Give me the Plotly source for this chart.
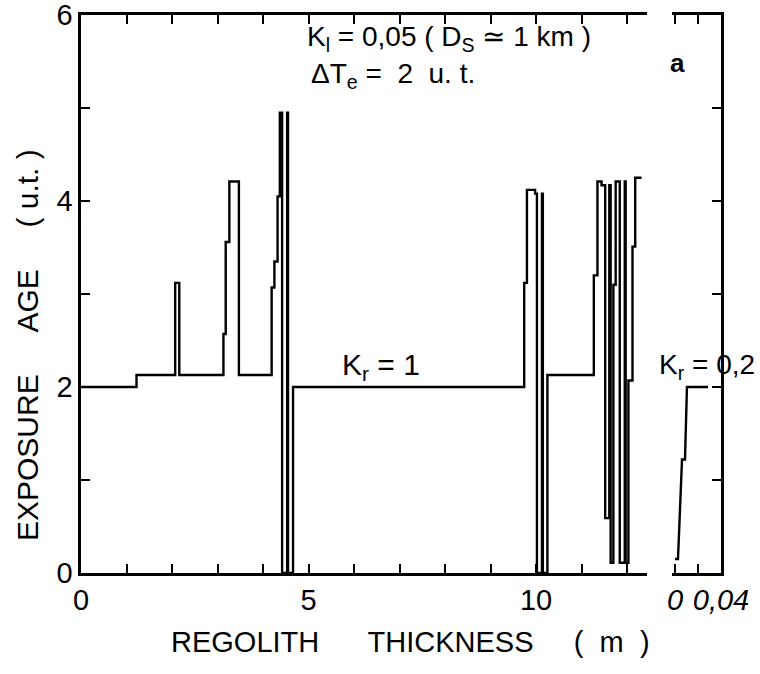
import plotly.graph_objects as go

# ---- data ----
# Main panel (K_r = 1): exposure age (u.t.) as a step function of regolith depth (m);
# each age level starts at the listed depth.
depth_m = [0.00, 1.22, 2.07, 2.16, 3.13, 3.18, 3.26, 3.47, 4.19, 4.25, 4.32, 4.37,
           4.42, 4.53, 4.55, 4.66, 9.74, 9.80, 9.98, 10.02, 10.13, 10.15, 10.25,
           11.27, 11.35, 11.44, 11.52, 11.61, 11.64, 11.70, 11.75, 11.84, 11.95,
           11.97, 12.03, 12.12, 12.18, 12.32]
age_ut = [2.00, 2.13, 3.12, 2.13, 2.57, 3.56, 4.21, 2.13, 3.07, 3.35, 4.05, 4.95,
          0.00, 4.95, 0.00, 2.00, 3.12, 4.12, 4.08, 0.00, 4.08, 0.00, 2.13,
          3.20, 4.21, 4.17, 0.59, 4.17, 0.11, 3.10, 4.21, 0.11, 4.21,
          0.11, 2.07, 3.51, 4.25, 4.25]

# Small panel (K_r = 0,2)
small_depth_m = [0.0000, 0.0026, 0.0061, 0.0087, 0.0104, 0.0287]
small_age_ut = [0.15, 0.15, 1.22, 1.22, 2.00, 2.00]

main_ticks = list(range(0, 13))
main_ticklabels = ["0", "", "", "", "", "5", "", "", "", "", "10", "", ""]
age_ticks = [0, 1, 2, 3, 4, 5, 6]
age_ticklabels = ["0", "", "2", "", "4", "", "6"]
small_ticks = [0, 0.02, 0.04]
small_ticklabels = ["<i>0</i>", "", "<i>0,04</i>"]

FONT = "Liberation Sans, Arial, sans-serif"
NB = "\u00a0"

# ---- geometry (pixels) ----
W, H = 760, 674
L, R, T, B = 81, 39, 15, 101
PW, PH = W - L - R, H - T - B


def px(x):
    return (x - L) / PW


def py(y):
    return (H - B - y) / PH


fig = go.Figure()
fig.add_trace(go.Scatter(x=depth_m, y=age_ut, mode="lines",
                         line=dict(shape="hv", color="black", width=2.4),
                         xaxis="x", yaxis="y", showlegend=False, hoverinfo="skip"))
fig.add_trace(go.Scatter(x=small_depth_m, y=small_age_ut, mode="lines",
                         line=dict(color="black", width=2.4),
                         xaxis="x2", yaxis="y2", showlegend=False, hoverinfo="skip"))

axis_common = dict(showgrid=False, zeroline=False, showline=True, linecolor="black",
                   linewidth=2.6, ticks="inside", ticklen=9, tickwidth=2,
                   tickcolor="black", automargin=False, ticklabeloverflow="allow",
                   tickfont=dict(family=FONT, size=29, color="black"))

YMAX = 6.0005
fig.update_layout(
    width=W, height=H,
    margin=dict(l=L, r=R, t=T, b=B, autoexpand=False),
    paper_bgcolor="white", plot_bgcolor="white",
    xaxis=dict(domain=[0, px(646.6)], range=[0, 12.43], tickvals=main_ticks,
               ticktext=main_ticklabels, mirror="ticks", anchor="y", **axis_common),
    yaxis=dict(domain=[0, 1], range=[0, YMAX], tickvals=age_ticks, ticktext=age_ticklabels,
               mirror=False, anchor="x", **axis_common),
    xaxis2=dict(domain=[px(672), 1], range=[-0.0026, 0.04], tickvals=small_ticks,
                ticktext=small_ticklabels, mirror="ticks", anchor="y2", **axis_common),
    yaxis2=dict(domain=[0, 1], range=[0, YMAX], tickvals=[1, 2, 3, 4, 5], side="right",
                showticklabels=False, anchor="x2", mirror=False, **axis_common),
)

ann_font = dict(family=FONT, size=28, color="black")
annotations = [
    dict(x=px(305), y=py(38), xanchor="left", yanchor="middle",
         text=f"K<sub>l</sub>{NB}={NB}0,05{NB}({NB}D<sub>S</sub>{NB}≃{NB}1{NB}km{NB})"),
    dict(x=px(309), y=py(75), xanchor="left", yanchor="middle",
         text=f"ΔT<sub>e</sub>{NB}={NB}{NB}2{NB}{NB}u.{NB}t."),
    dict(x=px(381), y=py(366), xanchor="center", yanchor="middle",
         text=f"K<sub>r</sub>{NB}={NB}1", font=dict(family=FONT, size=30, color="black")),
    dict(x=px(757), y=py(366), xanchor="right", yanchor="middle",
         text=f"K<sub>r</sub>{NB}={NB}0,2"),
    dict(x=px(677), y=py(63), xanchor="center", yanchor="middle",
         text="<b>a</b>", font=dict(family=FONT, size=26, color="black")),
    dict(x=px(28), y=py(345), xanchor="center", yanchor="middle", textangle=-90,
         text=f"EXPOSURE{NB*5}AGE{NB*5}({NB}u.t.{NB})",
         font=dict(family=FONT, size=30, color="black")),
    dict(x=px(410), y=py(642), xanchor="center", yanchor="middle",
         text=f"REGOLITH{NB*6}THICKNESS{NB*5}({NB*2}m{NB*2})",
         font=dict(family=FONT, size=29, color="black")),
]
for a in annotations:
    a.setdefault("font", ann_font)
    a.update(xref="paper", yref="paper", showarrow=False)
fig.update_layout(annotations=annotations)

fig.write_html("out.html",
               config={"displayModeBar": False, "staticPlot": True},
               post_script="document.body.style.margin='0px';"
                           "document.body.style.overflow='hidden';")
